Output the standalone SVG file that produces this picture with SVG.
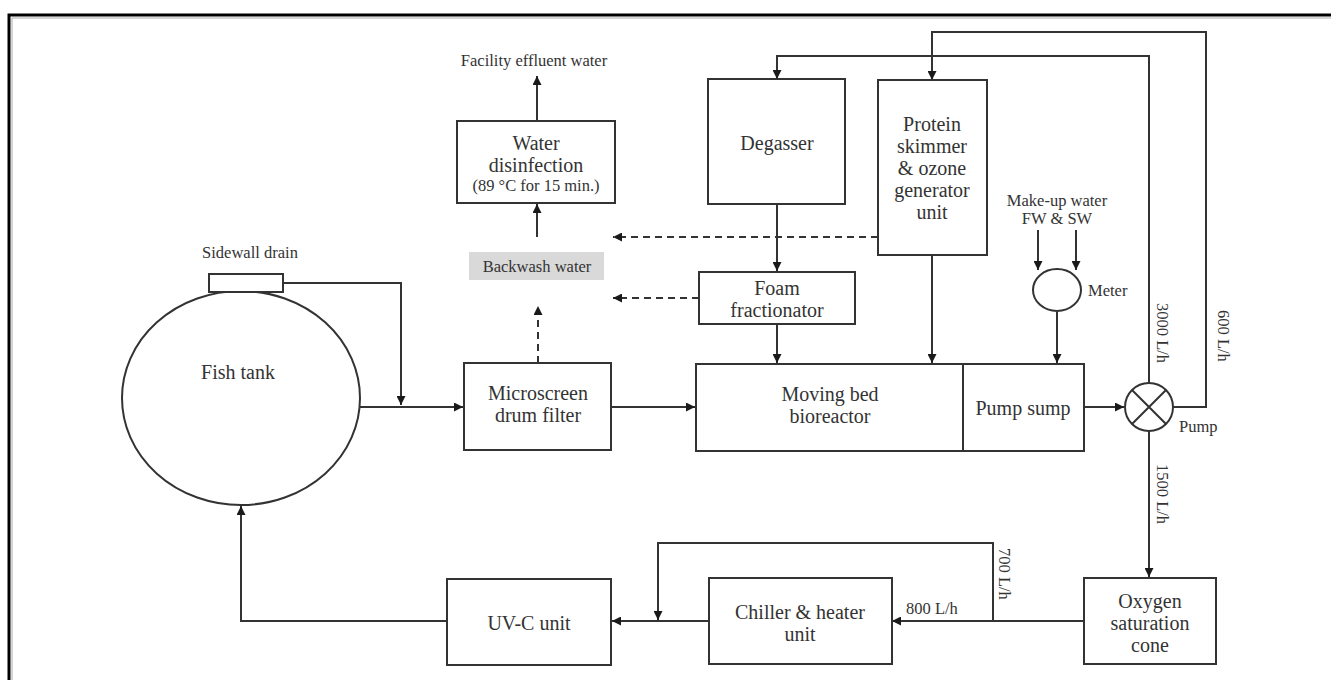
<svg xmlns="http://www.w3.org/2000/svg" width="1331" height="680" viewBox="0 0 1331 680">
<defs>
<marker id="ah" viewBox="0 0 10 10" refX="10" refY="5" markerWidth="9" markerHeight="9" markerUnits="userSpaceOnUse" orient="auto">
<path d="M0,0 L10,5 L0,10 z" fill="#1a1a1a"/>
</marker>
<style>
.box{fill:#fff;stroke:#333;stroke-width:2}
.ln{fill:none;stroke:#333;stroke-width:2}
.dash{fill:none;stroke:#333;stroke-width:2;stroke-dasharray:7,5}
.t{font-family:"Liberation Serif","Times New Roman",serif;font-size:20px;fill:#333;text-anchor:middle}
.s{font-family:"Liberation Serif","Times New Roman",serif;font-size:16.5px;fill:#333;text-anchor:middle}
.sl{font-family:"Liberation Serif","Times New Roman",serif;font-size:16.5px;fill:#333}
</style>
</defs>
<rect x="0" y="0" width="1331" height="680" fill="#fff"/>
<g id="frame">
<path d="M9,680 V15 H1331" fill="none" stroke="#000" stroke-width="3"/>
<path d="M12,680 V18 H1331" fill="none" stroke="#aaa" stroke-width="1"/>
</g>

<g id="connectors">
<!-- sidewall drain to main line -->
<path class="ln" d="M283,283 H401 V405" marker-end="url(#ah)"/>
<!-- fish tank to microscreen -->
<path class="ln" d="M271,407 H463" marker-end="url(#ah)"/>
<!-- microscreen to MBBR -->
<path class="ln" d="M611,407 H695" marker-end="url(#ah)"/>
<!-- microscreen to backwash (dashed) -->
<path class="dash" d="M538,363 V306" marker-end="url(#ah)"/>
<!-- backwash to disinfection -->
<path class="ln" d="M537,237 V204" marker-end="url(#ah)"/>
<!-- disinfection to effluent -->
<path class="ln" d="M537,121 V76" marker-end="url(#ah)"/>
<!-- protein skimmer dashed -->
<path class="dash" d="M878,237 H613" marker-end="url(#ah)"/>
<!-- foam dashed -->
<path class="dash" d="M699,298 H613" marker-end="url(#ah)"/>
<!-- degasser to foam -->
<path class="ln" d="M777,204 V271" marker-end="url(#ah)"/>
<!-- foam to MBBR -->
<path class="ln" d="M777,324 V363" marker-end="url(#ah)"/>
<!-- protein skimmer to MBBR -->
<path class="ln" d="M932,255 V363" marker-end="url(#ah)"/>
<!-- internal arrows -->
<path class="ln" d="M942,385 H987" marker-end="url(#ah)"/>
<path class="ln" d="M942,431 H987" marker-end="url(#ah)"/>
<!-- make-up water arrows -->
<path class="ln" d="M1038,230 V270" marker-end="url(#ah)"/>
<path class="ln" d="M1076,230 V270" marker-end="url(#ah)"/>
<!-- meter to pump sump -->
<path class="ln" d="M1057,312 V363" marker-end="url(#ah)"/>
<!-- pump sump to pump -->
<path class="ln" d="M1084,407 H1124" marker-end="url(#ah)"/>
<!-- pump to degasser (3000 L/h) -->
<path class="ln" d="M1149,383 V56 H777 V79" marker-end="url(#ah)"/>
<!-- pump to protein skimmer (600 L/h) -->
<path class="ln" d="M1173,407 H1206 V32 H932 V80" marker-end="url(#ah)"/>
<!-- pump to oxygen cone (1500 L/h) -->
<path class="ln" d="M1149,431 V577" marker-end="url(#ah)"/>
<!-- oxygen cone to chiller -->
<path class="ln" d="M1084,621 H892" marker-end="url(#ah)"/>
<!-- bypass 700 L/h -->
<path class="ln" d="M993,621 V543 H658 V620" marker-end="url(#ah)"/>
<!-- chiller to UV -->
<path class="ln" d="M709,621 H612" marker-end="url(#ah)"/>
<!-- UV to fish tank -->
<path class="ln" d="M447,621 H241 V506" marker-end="url(#ah)"/>
</g>

<g id="fish-tank">
<ellipse class="box" cx="241" cy="398" rx="119" ry="107"/>
<text class="t" x="238" y="379">Fish tank</text>
</g>
<g id="sidewall-drain">
<rect class="box" x="209" y="274" width="74" height="18"/>
<text class="s" x="250" y="258">Sidewall drain</text>
</g>
<g id="microscreen">
<rect class="box" x="464" y="363" width="147" height="87"/>
<text class="t" x="538" y="400">Microscreen</text>
<text class="t" x="538" y="422">drum filter</text>
</g>
<g id="mbbr">
<rect class="box" x="696" y="364" width="267" height="87"/>
<text class="t" x="830" y="401">Moving bed</text>
<text class="t" x="830" y="423">bioreactor</text>
</g>
<g id="pump-sump">
<rect class="box" x="963" y="364" width="121" height="87"/>
<text class="t" x="1023" y="415">Pump sump</text>
</g>
<g id="pump">
<circle class="box" cx="1149" cy="407" r="24"/>
<path class="ln" d="M1132,390 L1166,424 M1166,390 L1132,424"/>
<text class="sl" x="1179" y="432">Pump</text>
</g>
<g id="backwash">
<rect x="469" y="252" width="135" height="28" fill="#d9d9d9"/>
<text class="s" x="537" y="272">Backwash water</text>
</g>
<g id="disinfection">
<rect class="box" x="457" y="121" width="158" height="82"/>
<text class="t" x="536" y="150">Water</text>
<text class="t" x="536" y="172">disinfection</text>
<text class="s" x="536" y="191">(89 °C for 15 min.)</text>
</g>
<g id="effluent">
<text class="s" x="534" y="66">Facility effluent water</text>
</g>
<g id="degasser">
<rect class="box" x="708" y="79" width="137" height="125"/>
<text class="t" x="777" y="150">Degasser</text>
</g>
<g id="protein-skimmer">
<rect class="box" x="878" y="80" width="109" height="175"/>
<text class="t" x="932" y="131">Protein</text>
<text class="t" x="932" y="153">skimmer</text>
<text class="t" x="932" y="175">&amp; ozone</text>
<text class="t" x="932" y="197">generator</text>
<text class="t" x="932" y="219">unit</text>
</g>
<g id="foam-fractionator">
<rect class="box" x="699" y="272" width="156" height="52"/>
<text class="t" x="777" y="295">Foam</text>
<text class="t" x="777" y="317">fractionator</text>
</g>
<g id="makeup-water">
<text class="s" x="1057" y="206">Make-up water</text>
<text class="s" x="1057" y="224">FW &amp; SW</text>
</g>
<g id="meter">
<ellipse class="box" cx="1057" cy="290" rx="24" ry="21"/>
<text class="sl" x="1088" y="296">Meter</text>
</g>
<g id="oxygen-cone">
<rect class="box" x="1084" y="578" width="132" height="86"/>
<text class="t" x="1150" y="608">Oxygen</text>
<text class="t" x="1150" y="630">saturation</text>
<text class="t" x="1150" y="652">cone</text>
</g>
<g id="chiller">
<rect class="box" x="709" y="578" width="183" height="86"/>
<text class="t" x="800" y="619">Chiller &amp; heater</text>
<text class="t" x="800" y="641">unit</text>
</g>
<g id="uvc">
<rect class="box" x="447" y="579" width="164" height="86"/>
<text class="t" x="529" y="630">UV-C unit</text>
</g>
<g id="flow-labels">
<text class="sl" transform="translate(1157,303) rotate(90)">3000 L/h</text>
<text class="sl" transform="translate(1218,310) rotate(90)">600 L/h</text>
<text class="sl" transform="translate(1157,464) rotate(90)">1500 L/h</text>
<text class="sl" transform="translate(999,548) rotate(90)">700 L/h</text>
<text class="sl" x="906" y="614">800 L/h</text>
</g>
</svg>
